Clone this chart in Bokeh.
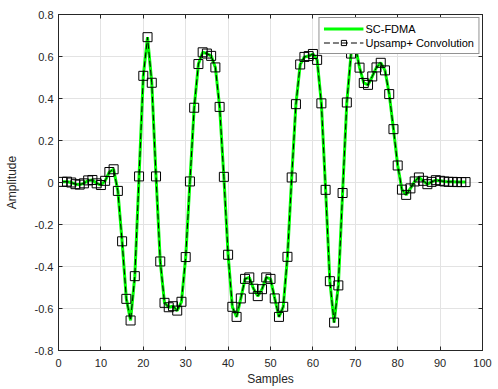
from bokeh.plotting import figure
from bokeh.models import (FixedTicker, LinearAxis, CustomJSTickFormatter, Range1d,
                          Legend, LegendItem)
from bokeh.embed import file_html
from bokeh.resources import INLINE

# ---------------- data ----------------
samples = list(range(1, 97))
sc_fdma = [
    0.003, 0.004, 0.000, -0.008, -0.010, -0.004, 0.010, 0.012, -0.004, -0.012,
    0.008, 0.050, 0.063, -0.040, -0.280, -0.554, -0.657, -0.446, 0.029, 0.508,
    0.692, 0.475, 0.029, -0.376, -0.573, -0.594, -0.589, -0.610, -0.568, -0.355,
    0.005, 0.356, 0.564, 0.620, 0.614, 0.603, 0.548, 0.360, 0.027, -0.344,
    -0.592, -0.640, -0.552, -0.459, -0.452, -0.506, -0.541, -0.508, -0.452, -0.459,
    -0.552, -0.640, -0.592, -0.354, 0.024, 0.373, 0.562, 0.598, 0.602, 0.612,
    0.584, 0.377, -0.035, -0.470, -0.667, -0.490, -0.050, 0.381, 0.614, 0.650,
    0.547, 0.474, 0.465, 0.505, 0.548, 0.570, 0.534, 0.421, 0.254, 0.081,
    -0.034, -0.059, -0.028, 0.005, 0.024, 0.008, -0.008, 0.003, 0.011, 0.008,
    0.005, 0.003, 0.003, 0.002, 0.002, 0.002,
]
upsamp_conv = [
    0.003, 0.004, 0.000, -0.008, -0.010, -0.004, 0.010, 0.012, -0.004, -0.012,
    0.008, 0.050, 0.063, -0.040, -0.280, -0.554, -0.657, -0.446, 0.029, 0.508,
    0.692, 0.475, 0.029, -0.376, -0.573, -0.594, -0.589, -0.610, -0.568, -0.355,
    0.005, 0.356, 0.564, 0.620, 0.614, 0.603, 0.548, 0.360, 0.027, -0.344,
    -0.592, -0.640, -0.552, -0.459, -0.452, -0.506, -0.541, -0.508, -0.452, -0.459,
    -0.552, -0.640, -0.592, -0.354, 0.024, 0.373, 0.562, 0.598, 0.602, 0.612,
    0.584, 0.377, -0.035, -0.470, -0.667, -0.490, -0.050, 0.381, 0.614, 0.650,
    0.547, 0.474, 0.465, 0.505, 0.548, 0.570, 0.534, 0.421, 0.254, 0.081,
    -0.034, -0.059, -0.028, 0.005, 0.024, 0.008, -0.008, 0.003, 0.011, 0.008,
    0.005, 0.003, 0.003, 0.002, 0.002, 0.002,
]
x_ticks = [0, 10, 20, 30, 40, 50, 60, 70, 80, 90, 100]
y_ticks = [-0.8, -0.6, -0.4, -0.2, 0.0, 0.2, 0.4, 0.6, 0.8]
series_labels = ["SC-FDMA", "Upsamp+ Convolution"]
x_label = "Samples"
y_label = "Amplitude"

# ---------------- style ----------------
FONT = "Liberation Sans"
AX = "#262626"
GRID = "#e3e3e3"

p = figure(width=498, height=389, output_backend="svg", toolbar_location=None,
           x_range=Range1d(0, 100), y_range=Range1d(-0.8, 0.8),
           min_border_left=58, min_border_right=16, min_border_top=14,
           min_border_bottom=39, background_fill_color="white",
           border_fill_color="white")
p.outline_line_color = AX
p.outline_line_width = 1

yfmt = CustomJSTickFormatter(code="return Math.abs(tick) < 1e-9 ? '0' : tick.toFixed(1);")
xfmt = CustomJSTickFormatter(code="return tick.toFixed(0);")


def style_axis(ax, ticks, fmt, show_labels):
    ax.ticker = FixedTicker(ticks=ticks)
    ax.formatter = fmt
    ax.major_tick_in = 4
    ax.major_tick_out = 0
    ax.minor_tick_line_color = None
    ax.axis_line_color = AX
    ax.major_tick_line_color = AX
    ax.major_label_text_color = AX
    ax.major_label_text_font = FONT
    ax.axis_label_text_font = FONT
    ax.axis_label_text_font_style = "normal"
    ax.axis_label_text_color = AX
    if show_labels:
        ax.major_label_text_font_size = "11px"
        ax.axis_label_text_font_size = "12px"
    else:
        ax.major_label_text_font_size = "0px"
        ax.major_label_standoff = 0


xa = p.xaxis[0]
style_axis(xa, x_ticks, xfmt, True)
xa.axis_label = x_label
xa.major_label_standoff = 8
xa.axis_label_standoff = 2

ya = p.yaxis[0]
style_axis(ya, y_ticks, yfmt, True)
ya.axis_label = y_label
ya.major_label_standoff = 5
ya.axis_label_standoff = 13

top_ax = LinearAxis()
style_axis(top_ax, x_ticks, CustomJSTickFormatter(code="return '';"), False)
p.add_layout(top_ax, "above")
right_ax = LinearAxis()
style_axis(right_ax, y_ticks, CustomJSTickFormatter(code="return '';"), False)
p.add_layout(right_ax, "right")

p.xgrid.ticker = FixedTicker(ticks=x_ticks)
p.ygrid.ticker = FixedTicker(ticks=y_ticks)
p.xgrid.grid_line_color = GRID
p.ygrid.grid_line_color = GRID

green = p.line(samples, sc_fdma, line_color="#00ff00", line_width=3)
dash = p.line(samples, upsamp_conv, line_color="black", line_width=1, line_dash="6 3")
sq = p.scatter(samples, upsamp_conv, marker="square", size=9, fill_color=None,
               line_color="black", line_width=1)

legend = Legend(items=[LegendItem(label=series_labels[0], renderers=[green]),
                       LegendItem(label=series_labels[1], renderers=[dash, sq])],
                location="top_right")
legend.margin = 3
legend.padding = 4
legend.spacing = 1
legend.glyph_width = 40
legend.glyph_height = 13
legend.label_height = 13
legend.label_standoff = 2
legend.label_text_font = FONT
legend.label_text_font_size = "11px"
legend.label_text_color = "black"
legend.border_line_color = AX
legend.border_line_width = 1
legend.background_fill_color = "white"
legend.background_fill_alpha = 1
p.add_layout(legend)

open("out.html", "w").write(file_html(p, INLINE))
